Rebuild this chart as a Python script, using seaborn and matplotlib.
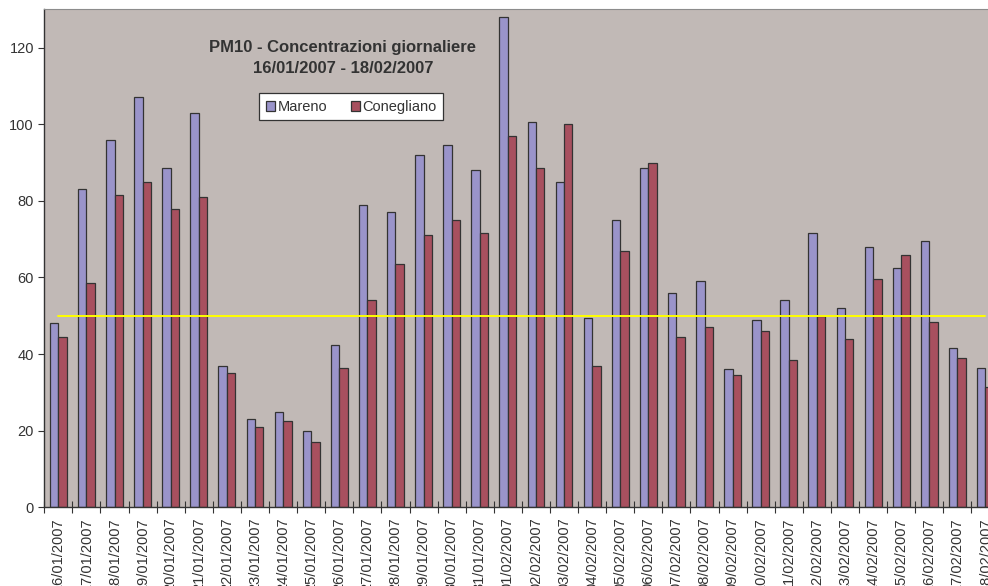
import numpy as np
import pandas as pd
import matplotlib
matplotlib.use("Agg")
import matplotlib.pyplot as plt
import seaborn as sns

# Daily PM10 concentrations (µg/m³)
dates = [
    "16/01/2007", "17/01/2007", "18/01/2007", "19/01/2007", "20/01/2007",
    "21/01/2007", "22/01/2007", "23/01/2007", "24/01/2007", "25/01/2007",
    "26/01/2007", "27/01/2007", "28/01/2007", "29/01/2007", "30/01/2007",
    "31/01/2007", "01/02/2007", "02/02/2007", "03/02/2007", "04/02/2007",
    "05/02/2007", "06/02/2007", "07/02/2007", "08/02/2007", "09/02/2007",
    "10/02/2007", "11/02/2007", "12/02/2007", "13/02/2007", "14/02/2007",
    "15/02/2007", "16/02/2007", "17/02/2007", "18/02/2007",
]
mareno = [
    48, 83, 96, 107, 88.5, 103, 37, 23, 25, 20,
    42.5, 79, 77, 92, 94.5, 88, 128, 100.5, 85, 49.5,
    75, 88.5, 56, 59, 36, 49, 54, 71.5, 52, 68,
    62.5, 69.5, 41.5, 36.5,
]
conegliano = [
    44.5, 58.5, 81.5, 85, 78, 81, 35, 21, 22.5, 17,
    36.5, 54, 63.5, 71, 75, 71.5, 97, 88.5, 100, 37,
    67, 90, 44.5, 47, 34.5, 46, 38.5, 50, 44, 59.5,
    66, 48.5, 39, 31.5,
]
limit = [50] * len(dates)

series_names = ["Mareno", "Conegliano"]
palette = {"Mareno": "#9A94CA", "Conegliano": "#A8505F"}

df = pd.DataFrame({
    "data": dates * 2,
    "stazione": ["Mareno"] * len(dates) + ["Conegliano"] * len(dates),
    "pm10": mareno + conegliano,
})

sns.set_theme(style="white")
plt.rcParams["font.family"] = ["Liberation Sans", "DejaVu Sans"]

W, H = 988, 586
fig = plt.figure(figsize=(W / 100, H / 100), dpi=100)
fig.patch.set_facecolor("white")

left_px, right_px, top_px, bottom_px = 44.3, 999.5, 9.4, 507.3
ax = fig.add_axes([left_px / W, (H - bottom_px) / H,
                   (right_px - left_px) / W, (bottom_px - top_px) / H])
ax.set_facecolor("#C1B9B6")

sns.barplot(data=df, x="data", y="pm10", hue="stazione", order=dates,
            hue_order=series_names, palette=palette, width=0.6,
            edgecolor="#333333", linewidth=0.9, saturation=1, ax=ax,
            legend=True)

# Daily limit value
ax.plot(np.arange(len(dates)), limit, color="#FFFF00", lw=1.4, zorder=5)

ax.set_xlim(-0.5, len(dates) - 0.5)
ax.set_ylim(0, 130)
ax.set_yticks([0, 20, 40, 60, 80, 100, 120])
ax.set_xlabel("")
ax.set_ylabel("")

ax.tick_params(axis="y", direction="out", length=4.5, width=0.8,
               color="#333333", labelsize=10.5, labelcolor="#333333", pad=3,
               left=True)
ax.set_xticks(np.arange(len(dates)))
ax.set_xticklabels(dates, rotation=90, ha="center", va="top")
ax.tick_params(axis="x", which="major", length=0, labelsize=10.5,
               labelcolor="#333333", pad=7.5)
ax.set_xticks(np.arange(len(dates) + 1) - 0.5, minor=True)
ax.tick_params(axis="x", which="minor", direction="inout", length=9,
               width=0.8, color="#333333", bottom=True)

for side in ["left", "bottom"]:
    ax.spines[side].set_color("#333333")
    ax.spines[side].set_linewidth(1.0)
ax.spines["top"].set_color("#8C8C8C")
ax.spines["top"].set_linewidth(0.8)
ax.spines["right"].set_visible(False)

# Title inside the plot area
ax.text(0.3127, 0.9225, "PM10 - Concentrazioni giornaliere",
        transform=ax.transAxes, ha="center", va="center",
        fontsize=12, fontweight="bold", color="#333333")
ax.text(0.3127, 0.8806, "16/01/2007 - 18/02/2007",
        transform=ax.transAxes, ha="center", va="center",
        fontsize=12, fontweight="bold", color="#333333")

leg = ax.legend(loc="upper left", bbox_to_anchor=(0.2251, 0.8315), ncol=2,
                frameon=True, fancybox=False, framealpha=1, fontsize=10.5,
                handlelength=0.65, handleheight=0.65, handletextpad=0.15,
                columnspacing=1.6, borderpad=0.45, borderaxespad=0)
leg.get_frame().set_edgecolor("#333333")
leg.get_frame().set_linewidth(0.9)
for t in leg.get_texts():
    t.set_color("#333333")

fig.savefig("out.png", dpi=100, facecolor="white")
